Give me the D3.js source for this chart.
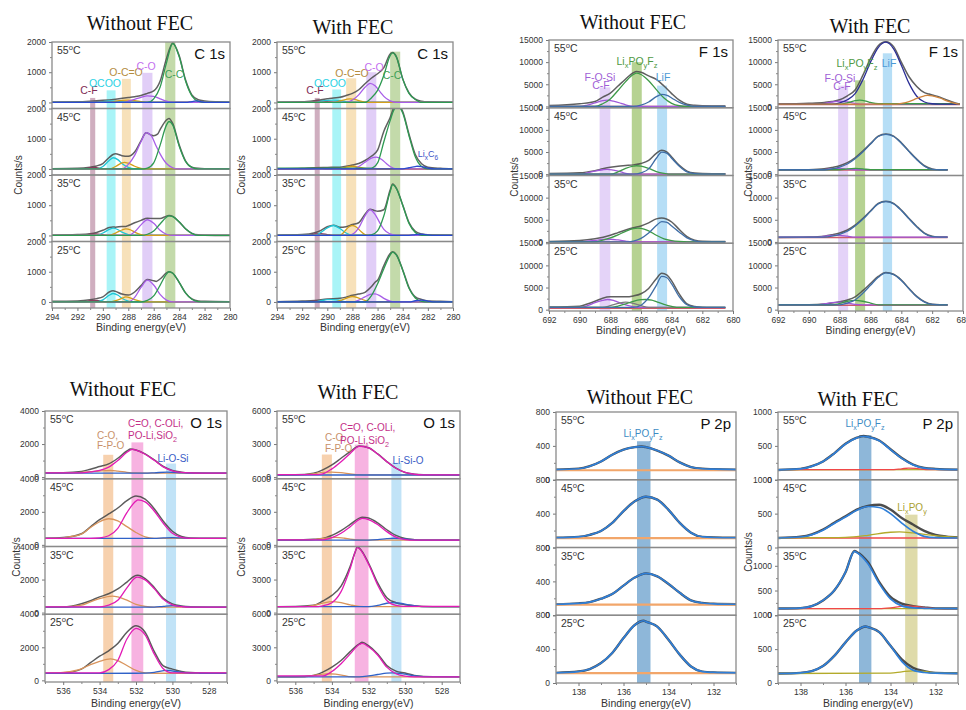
<!DOCTYPE html>
<html>
<head>
<meta charset="utf-8">
<script src="https://cdn.jsdelivr.net/npm/d3@7"></script>
<style>
  body { margin: 0; background: #fff; }
  svg { display: block; }
  text { font-family: "Liberation Sans", Arial, sans-serif; }
  text.title { font-family: "Liberation Serif", "Times New Roman", serif; }
</style>
</head>
<body>
<svg id="fig" width="966" height="710"></svg>
<script>
// ---- data: temperatures top to bottom, spectra as flat [eV, counts, eV, counts ...] ----
const temps = ["55", "45", "35", "25"];

const c1sTicks = [294, 292, 290, 288, 286, 284, 282, 280];
const f1sTicks = [692, 690, 688, 686, 684, 682, 680];
const o1sTicks = [536, 534, 532, 530, 528];
const p2pTicks = [138, 136, 134, 132];

// C 1s without FEC
const c1sWithout = [
  { env: [294,10, 292,20, 291,40, 290,70, 289,110, 288,160, 287.5,190, 287,230, 286.5,300, 286,380, 285.5,700, 285,1450, 284.5,1970, 284,1550, 283.5,750, 283,250, 282.5,90, 282,50, 281,20, 280,10],
    comps: [["base",[294,0, 280,0]],
      ["CF",[291.5,0, 291,25, 290.5,25, 290,0]],
      ["OCOO",[290.5,0, 290,30, 289.5,50, 289,45, 288.5,20, 288,0]],
      ["OCC",[289.5,0, 289,40, 288.5,70, 288,80, 287.5,60, 287,25, 286.5,0]],
      ["CO",[288.5,0, 288,40, 287.5,100, 287,170, 286.5,220, 286,200, 285.5,120, 285,40, 284.5,0]],
      ["CC",[286.5,0, 286,120, 285.5,500, 285,1300, 284.5,1950, 284,1520, 283.5,720, 283,220, 282.5,40, 282,0]],
      ["Li",[283.5,0, 283,30, 282.7,50, 282.3,30, 282,0]]] },
  { env: [294,10, 292,20, 291,60, 290.5,100, 290,180, 289.5,380, 289.2,480, 289,500, 288.5,440, 288,420, 287.5,560, 287,930, 286.6,1200, 286.2,1120, 286,1100, 285.7,1150, 285.5,1300, 285,1620, 284.8,1670, 284.5,1500, 284,800, 283.5,270, 283,60, 282.5,20, 282,10, 280,0],
    comps: [["base",[294,0, 280,0]],
      ["CF",[291.5,0, 291,40, 290.7,50, 290.3,30, 290,0]],
      ["OCOO",[290.5,0, 290,80, 289.5,280, 289.2,370, 288.8,300, 288.5,180, 288,50, 287.5,0]],
      ["OCC",[289.5,0, 289,80, 288.5,200, 288.3,220, 288,190, 287.5,90, 287,20, 286.5,0]],
      ["CO",[288.5,0, 288,150, 287.5,450, 287,900, 286.6,1200, 286.2,1100, 285.8,750, 285.5,500, 285,180, 284.5,40, 284,0]],
      ["CC",[287,0, 286.5,30, 286,200, 285.5,780, 285,1450, 284.8,1570, 284.5,1450, 284,760, 283.5,250, 283,50, 282.5,0]]] },
  { env: [294,10, 292,30, 291,60, 290.5,100, 290,170, 289.5,260, 289.2,280, 289,275, 288.5,300, 288.2,300, 288,330, 287.5,420, 287,500, 286.5,570, 286,560, 285.5,560, 285,640, 284.8,660, 284.5,630, 284,450, 283.5,220, 283,70, 282.5,20, 282,10, 280,0],
    comps: [["base",[294,0, 280,0]],
      ["CF",[291.5,0, 291,40, 290.5,50, 290,20, 289.5,0]],
      ["OCOO",[290.5,0, 290,80, 289.5,200, 289.2,240, 288.8,190, 288.5,110, 288,30, 287.5,0]],
      ["OCC",[289.5,0, 289,80, 288.5,180, 288.2,220, 287.8,180, 287.5,110, 287,30, 286.5,0]],
      ["CO",[288,0, 287.5,120, 287,350, 286.5,520, 286,400, 285.5,170, 285,40, 284.5,0]],
      ["CC",[287,0, 286.5,40, 286,150, 285.5,380, 285,600, 284.8,650, 284.5,620, 284,450, 283.5,220, 283,70, 282.5,0]]] },
  { env: [294,20, 292,30, 291,70, 290.5,110, 290,170, 289.5,330, 289.2,370, 289,350, 288.5,260, 288,230, 287.5,330, 287,540, 286.5,740, 286,700, 285.8,680, 285.5,760, 285,960, 284.8,1000, 284.5,950, 284,650, 283.5,300, 283,100, 282.5,30, 282,20, 280,10],
    comps: [["base",[294,0, 280,0]],
      ["CF",[291.5,0, 291,40, 290.5,50, 290,20, 289.5,0]],
      ["OCOO",[290.5,0, 290,70, 289.5,220, 289.2,280, 288.8,220, 288.5,120, 288,30, 287.5,0]],
      ["OCC",[289.5,0, 289,40, 288.5,120, 288.2,170, 287.8,130, 287.5,80, 287,20, 286.5,0]],
      ["CO",[288,0, 287.5,150, 287,480, 286.5,720, 286,560, 285.5,250, 285,60, 284.5,0]],
      ["CC",[287,0, 286.5,50, 286,200, 285.5,550, 285,920, 284.8,1000, 284.5,950, 284,650, 283.5,300, 283,90, 282.5,10, 282,0]]] }
];

// C 1s with FEC
const c1sWith = [
  { env: [294,10, 292,20, 291,60, 290.5,90, 290,120, 289.5,150, 289,170, 288.5,230, 288,300, 287.5,420, 287,620, 286.5,800, 286,950, 285.5,1150, 285,1600, 284.8,1650, 284.5,1510, 284,780, 283.5,320, 283,110, 282.5,40, 282,20, 280,10],
    comps: [["base",[294,0, 280,0]],
      ["CF",[291.5,0, 291,40, 290.5,50, 290,30, 289.5,0]],
      ["OCOO",[294,0, 291,0, 290.5,40, 290,70, 289.5,80, 289,60, 288.5,30, 288,0, 280,0]],
      ["OCC",[289.5,0, 289,50, 288.5,100, 288.2,120, 287.8,100, 287.5,60, 287,10, 286.5,0]],
      ["CO",[288.5,0, 288,80, 287.5,250, 287,500, 286.6,630, 286.2,550, 285.8,350, 285.5,200, 285,50, 284.5,0]],
      ["CC",[287,0, 286.5,150, 286,400, 285.5,900, 285,1550, 284.8,1640, 284.5,1500, 284,780, 283.5,300, 283,100, 282.5,0]]] },
  { env: [294,0, 292,20, 291,40, 290,50, 289,60, 288.5,90, 288,130, 287.5,180, 287,280, 286.5,420, 286,620, 285.5,1250, 285,1700, 284.7,2030, 284.4,2120, 284,1900, 283.5,1150, 283,480, 282.5,170, 282,60, 281,20, 280,0],
    comps: [["base",[294,0, 280,0]],
      ["CF",[291.5,0, 291,30, 290.5,30, 290,0]],
      ["OCC",[289,0, 288.5,60, 288,90, 287.5,60, 287,20, 286.5,0]],
      ["CO",[288,0, 287.5,80, 287,220, 286.5,360, 286.1,390, 285.7,320, 285.3,180, 285,80, 284.5,0]],
      ["CC",[286.5,30, 286,200, 285.5,900, 285,1600, 284.7,1950, 284.4,2080, 284,1850, 283.5,1100, 283,400, 282.5,80, 282,0]],
      ["Li",[284,0, 283.5,40, 283,80, 282.8,90, 282.5,80, 282,30, 281.5,0]]] },
  { env: [294,10, 292,30, 291,90, 290.5,170, 290,290, 289.5,340, 289,270, 288.5,290, 288,360, 287.5,420, 287,700, 286.6,870, 286.2,820, 286,800, 285.5,850, 285,1500, 284.8,1700, 284.5,1560, 284,1010, 283.5,430, 283,140, 282.5,50, 282,20, 280,10],
    comps: [["base",[294,0, 280,0]],
      ["CF",[291.5,0, 291,50, 290.5,60, 290,30, 289.5,0]],
      ["OCOO",[291,0, 290.5,100, 290,250, 289.5,330, 289,230, 288.5,80, 288,0]],
      ["OCC",[289,0, 288.7,100, 288.3,280, 288,330, 287.7,280, 287.3,120, 287,30, 286.5,0]],
      ["CO",[288.3,0, 287.5,250, 287,650, 286.6,850, 286.2,700, 285.8,400, 285.5,200, 285,50, 284.5,0]],
      ["CC",[287,0, 286.5,20, 286,150, 285.5,650, 285,1450, 284.8,1680, 284.5,1550, 284,1000, 283.5,400, 283,100, 282.5,0]],
      ["Li",[283.5,0, 283,30, 282.5,40, 282,20, 281.5,0]]] },
  { env: [294,10, 292,30, 291,50, 290,100, 289,120, 288.5,160, 288,220, 287.5,260, 287,320, 286.5,500, 286.2,650, 286,720, 285.5,1200, 285,1600, 284.8,1660, 284.5,1560, 284,1060, 283.5,480, 283,170, 282.5,80, 282,30, 281,20, 280,10],
    comps: [["base",[294,0, 280,0]],
      ["CF",[291.5,0, 291,30, 290.5,30, 290,0]],
      ["OCOO",[291,0, 290.5,40, 290,80, 289.5,80, 289,50, 288.5,0]],
      ["OCC",[289.5,0, 289,40, 288.5,120, 288,180, 287.5,130, 287,50, 286.5,0]],
      ["CO",[288,0, 287.5,60, 287,170, 286.5,260, 286.2,270, 285.8,200, 285.5,120, 285,30, 284.5,0]],
      ["CC",[287,0, 286.5,200, 286,600, 285.5,1100, 285,1550, 284.8,1650, 284.5,1550, 284,1050, 283.5,450, 283,130, 282.5,20, 282,0]],
      ["Li",[283.5,0, 283,40, 282.5,60, 282,30, 281.5,0]]] }
];

// F 1s without FEC
const f1sWithout = [
  { env: [692,200, 690,600, 689,1100, 688.5,2100, 688,3000, 687.5,4600, 687,6200, 686.5,7600, 686.3,7900, 686,7700, 685.5,6900, 685,6100, 684.5,4600, 684,2900, 683.5,1400, 683,500, 682.5,250, 682,150, 680.5,100],
    comps: [["base",[692,0, 680.5,0]],
      ["FOSi",[690,0, 689.5,300, 689,800, 688.5,1300, 688.2,1400, 687.8,1200, 687.3,700, 687,350, 686.5,0]],
      ["LiPOF",[689,0, 688.5,600, 688,1700, 687.5,3600, 687,5600, 686.5,7200, 686.3,7500, 686,7200, 685.5,5800, 685,3800, 684.5,1900, 684,700, 683.5,150, 683,0]],
      ["LiF",[686.5,0, 686,300, 685.5,1000, 685,2200, 684.65,2700, 684.3,2500, 684,1900, 683.5,900, 683,300, 682.5,0]]] },
  { env: [692,150, 690,300, 689,800, 688.5,1200, 688,1550, 687.5,1800, 687,1950, 686.5,2100, 686,2400, 685.5,3100, 685,4700, 684.65,5400, 684.3,5000, 684,3900, 683.5,2000, 683,700, 682.5,250, 682,150, 680.5,100],
    comps: [["base",[692,0, 680.5,0]],
      ["FOSi",[690,0, 689.5,300, 689,700, 688.5,1000, 688.2,1100, 687.8,900, 687.3,500, 687,200, 686.5,0]],
      ["LiPOF",[688,0, 687.5,500, 687,1300, 686.5,1800, 686.3,1900, 686,1800, 685.5,1300, 685,600, 684.5,200, 684,0]],
      ["LiF",[686.5,0, 686,300, 685.5,1200, 685,3600, 684.65,5000, 684.3,4700, 684,3600, 683.5,1800, 683,500, 682.5,100, 682,0]]] },
  { env: [692,100, 690,300, 689,700, 688,1500, 687.5,2100, 687,2700, 686.5,3200, 686,3600, 685.5,4300, 685,5200, 684.65,5400, 684,4500, 683.5,2800, 683,1200, 682.5,400, 682,150, 680.5,100],
    comps: [["base",[692,0, 680.5,0]],
      ["FOSi",[690,0, 689.5,150, 689,350, 688.5,550, 688,600, 687.5,450, 687,200, 686.5,0]],
      ["LiPOF",[689,0, 688.5,400, 688,900, 687.5,1600, 687,2400, 686.5,3000, 686.2,3100, 685.8,2900, 685.5,2500, 685,1500, 684.5,700, 684,300, 683.5,100, 683,0]],
      ["LiF",[687,0, 686.5,200, 686,800, 685.5,2000, 685,3700, 684.65,4600, 684.3,4400, 684,3600, 683.5,2200, 683,900, 682.5,250, 682,0]]] },
  { env: [692,600, 690,800, 689.5,1300, 689,1900, 688.5,2600, 688,2900, 687.5,2900, 687,2900, 686.5,3100, 686,3600, 685.5,4800, 685,7000, 684.65,8200, 684.3,7800, 684,6500, 683.5,3500, 683,1300, 682.5,700, 682,500, 680.5,400],
    comps: [["base",[692,300, 680.5,300]],
      ["FOSi",[690,500, 689.5,900, 689,1600, 688.5,2100, 688.2,2300, 687.8,2100, 687.5,1700, 687,1100, 686.5,700, 686,500]],
      ["G",[688.5,500, 688,900, 687.5,1400, 687,1700, 686.5,1400, 686,900, 685.5,500]],
      ["LiPOF",[688,500, 687.5,800, 687,1300, 686.5,1900, 686,2250, 685.7,2300, 685.3,2150, 685,1800, 684.5,1200, 684,750, 683.5,500]],
      ["LiF",[686.5,500, 686,1000, 685.5,2700, 685,5500, 684.65,7500, 684.3,7200, 684,5800, 683.5,2900, 683,1100, 682.5,600, 682,500]]] }
];

// F 1s with FEC
const f1sWith = [
  { env: [692,500, 690,700, 689,900, 688.5,1100, 688,1500, 687.5,2400, 687,3700, 686.5,7000, 686,10800, 685.5,13700, 685,14600, 684.5,13500, 684,10000, 683.5,6700, 683,4500, 682.5,3100, 682.2,2800, 682,2600, 681.5,2100, 681,1400, 680.5,800, 680.2,500],
    comps: [["base",[692,400, 680.2,400]],
      ["FOSi",[689.5,500, 689,700, 688.5,1000, 688,1200, 687.5,1000, 687,700, 686.5,500]],
      ["LiPOF",[688,500, 687.5,800, 687,1300, 686.7,1400, 686.3,1200, 686,900, 685.5,600]],
      ["N",[688.5,500, 688,800, 687.5,1500, 687,2900, 686.5,6000, 686,10000, 685.5,13300, 685,14500, 684.5,13000, 684,9300, 683.5,5200, 683,2300, 682.5,1000, 682,600, 681.5,500]],
      ["O",[684.5,500, 684,700, 683.5,1100, 683,1800, 682.5,2400, 682.3,2500, 682,2400, 681.5,1900, 681,1200, 680.5,700, 680.2,500]]] },
  { env: [692,900, 690,1000, 689,1200, 688.5,1500, 688,1900, 687.5,2600, 687,3700, 686.5,5200, 686,6900, 685.5,8600, 685,9100, 684.5,8600, 684,7100, 683.5,5200, 683,3400, 682.5,1900, 682,1200, 681.5,1000, 681,1000],
    comps: [["base",[692,900, 681,900]],
      ["FOSi",[689,1000, 688.5,1200, 688,1300, 687.5,1100, 687,1000]],
      ["LiPOF",[688,1000, 687.5,1200, 687,1300, 686.5,1200, 686,1000]],
      ["LiF",[689,1000, 688.5,1200, 688,1600, 687.5,2300, 687,3500, 686.5,5000, 686,6800, 685.5,8500, 685,9000, 684.5,8500, 684,7000, 683.5,5100, 683,3300, 682.5,1800, 682,1100, 681.5,1000]]] },
  { env: [692,1000, 690,1100, 689,1300, 688.5,1600, 688,2000, 687.5,2700, 687,3800, 686.5,5300, 686,7000, 685.5,8700, 685,9200, 684.5,8700, 684,7200, 683.5,5300, 683,3500, 682.5,2000, 682,1300, 681.5,1100, 681,1100],
    comps: [["base",[692,1000, 681,1000]],
      ["FOSi",[689.5,1100, 689,1300, 688.5,1500, 688,1500, 687.5,1300, 687,1100]],
      ["LiF",[689,1100, 688.5,1300, 688,1700, 687.5,2400, 687,3600, 686.5,5100, 686,6900, 685.5,8600, 685,9100, 684.5,8600, 684,7100, 683.5,5200, 683,3400, 682.5,1900, 682,1200, 681.5,1100]]] },
  { env: [692,1000, 690,1100, 689,1300, 688.5,1500, 688,1800, 687.5,2200, 687,2900, 686.5,4300, 686,5900, 685.5,7500, 685,8400, 684.5,8000, 684,6700, 683.5,4800, 683,3000, 682.5,1800, 682,1200, 681.5,1100, 681,1100],
    comps: [["base",[692,1000, 681,1000]],
      ["FOSi",[689.5,1100, 689,1300, 688.5,1600, 688,1700, 687.5,1500, 687,1200, 686.5,1100]],
      ["LiPOF",[688.5,1100, 688,1400, 687.5,1900, 687,2100, 686.5,1900, 686,1500, 685.5,1100]],
      ["LiF",[688,1100, 687.5,1500, 687,2200, 686.5,3700, 686,5500, 685.5,7300, 685,8300, 684.5,7900, 684,6600, 683.5,4700, 683,2900, 682.5,1700, 682,1200, 681.5,1100]]] }
];

// O 1s without FEC
const o1sWithout = [
  { env: [537,260, 536,270, 535,340, 534.5,480, 534,640, 533.5,800, 533,1140, 532.5,1580, 532.3,1700, 532,1640, 531.5,1400, 531,1040, 530.5,640, 530,400, 529.5,300, 529,260, 528,240, 527,240],
    comps: [["CO",[537,250, 536,260, 535,290, 534.5,330, 534,370, 533.4,400, 533,360, 532.5,290, 532,250, 531.5,240, 527,240]],
      ["LiOSi",[537,240, 531.5,240, 531,260, 530.3,300, 529.5,260, 529,240, 527,240]],
      ["CeqO",[535.5,250, 535,260, 534.5,320, 534,400, 533.5,600, 533,1000, 532.5,1500, 532.2,1680, 532,1630, 531.5,1380, 531,1020, 530.5,620, 530,380, 529.5,280, 529,250, 528.5,240]]] },
  { env: [537,400, 536,440, 535,670, 534.5,1090, 534,1520, 533.5,1870, 533,2230, 532.5,2670, 532,2950, 531.5,2760, 531,2190, 530.5,1430, 530,820, 529.5,510, 529,420, 528,400, 527,400],
    comps: [["CO",[537,390, 536.5,400, 536,420, 535.5,520, 535,650, 534.5,1050, 534,1400, 533.5,1580, 533,1450, 532.5,1100, 532,750, 531.5,480, 531,390, 527,390]],
      ["LiOSi",[537,390, 531,390, 530.5,420, 530,440, 529.5,420, 529,390, 527,390]],
      ["CeqO",[534.5,390, 534,420, 533.5,550, 533,1000, 532.5,1950, 532,2650, 531.9,2720, 531.5,2600, 531,2050, 530.5,1300, 530,700, 529.5,450, 529,390]]] },
  { env: [537,330, 536,330, 535,530, 534.5,720, 534,950, 533.5,1140, 533,1430, 532.5,1850, 532,2250, 531.9,2260, 531.5,2060, 531,1520, 530.5,860, 530,530, 529.5,400, 529,350, 528,330, 527,330],
    comps: [["CO",[537,330, 536,340, 535,450, 534.5,650, 534,850, 533.3,1000, 533,950, 532.5,750, 532,500, 531.5,380, 531,330, 527,330]],
      ["LiOSi",[537,330, 531,330, 530.5,380, 530,420, 529.5,380, 529,330, 527,330]],
      ["CeqO",[534,350, 533.5,450, 533,750, 532.5,1500, 532,2130, 531.9,2150, 531.5,1980, 531,1450, 530.5,800, 530,470, 529.5,360, 529,330]]] },
  { env: [537,430, 536,450, 535,680, 534.5,1070, 534,1460, 533.5,1790, 533,2230, 532.5,2910, 532,3300, 531.5,2910, 531,1750, 530.5,870, 530,680, 529.5,540, 529,470, 528,430, 527,430],
    comps: [["CO",[537,420, 536.5,430, 536,480, 535,700, 534.5,950, 534,1150, 533.4,1300, 533,1200, 532.5,900, 532,600, 531.5,450, 531,430, 527,420]],
      ["LiOSi",[537,420, 532,430, 531.5,440, 531,480, 530.3,600, 529.5,480, 529,440, 528.5,430, 527,420]],
      ["CeqO",[534,450, 533.5,650, 533,1200, 532.5,2500, 532,3150, 531.5,2750, 531,1600, 530.5,700, 530,450]]] }
];

// O 1s with FEC
const o1sWith = [
  { env: [537,200, 536,210, 535,360, 534.5,660, 534,1110, 533.5,1710, 533,2310, 532.5,2820, 532,2670, 531.5,2100, 531,1410, 530.5,810, 530,420, 529.5,270, 529,220, 528,200, 527,200],
    comps: [["CO",[537,200, 536,210, 535,300, 534.5,420, 534,450, 533.5,400, 533,300, 532.5,220, 532,200, 527,200]],
      ["LiOSi",[537,190, 527,190]],
      ["CeqO",[535,220, 534.5,300, 534,750, 533.5,1400, 533,2150, 532.5,2780, 532,2650, 531.5,2100, 531,1400, 530.5,800, 530,420, 529.5,260, 529,210]]] },
  { env: [537,430, 536,430, 535,500, 534.5,570, 534,860, 533.5,1290, 533,1860, 532.5,2430, 532.35,2510, 532,2430, 531.5,2000, 531,1370, 530.5,860, 530,570, 529.5,470, 529,440, 528,430, 527,430],
    comps: [["CO",[537,430, 535.5,430, 535,480, 534.5,580, 533.8,680, 533.3,600, 533,520, 532.5,440, 532,430, 527,430]],
      ["LiOSi",[537,430, 532,430, 531.5,470, 531,560, 530.6,600, 530,530, 529.5,460, 529,430, 527,430]],
      ["CeqO",[534.5,450, 534,650, 533.5,1050, 533,1650, 532.5,2300, 532.35,2400, 532,2300, 531.5,1850, 531,1200, 530.5,700, 530,480, 529.5,430]]] },
  { env: [537,540, 536,550, 535,660, 534.5,1050, 534,1560, 533.5,2400, 533,4200, 532.75,5400, 532.6,5950, 532.5,5850, 532,4500, 531.5,2700, 531,1350, 530.5,900, 530,720, 529.5,620, 529,560, 528,540, 527,540],
    comps: [["CO",[537,540, 535.5,540, 535,650, 534.5,850, 534,1000, 533.5,900, 533,700, 532.5,560, 532,540, 527,540]],
      ["LiOSi",[537,540, 532,540, 531.5,650, 531,850, 530.7,900, 530.3,850, 529.8,700, 529.3,580, 529,540, 527,540]],
      ["CeqO",[535,540, 534.5,620, 534,900, 533.5,1900, 533,4000, 532.6,5900, 532,4400, 531.5,2500, 531,1100, 530.5,650, 530,560]]] },
  { env: [537,320, 536,320, 535,450, 534.5,750, 534,1200, 533.5,1800, 533,2610, 532.5,3300, 532.35,3450, 532,3150, 531.5,2400, 531,1350, 530.5,840, 530,660, 529.5,450, 529,360, 528,320, 527,320],
    comps: [["CO",[537,320, 535.5,320, 535,450, 534.5,560, 534.2,600, 533.8,560, 533.3,430, 533,340, 532.5,320, 527,320]],
      ["LiOSi",[537,320, 532.5,320, 532,400, 531.5,530, 531,650, 530.7,680, 530.3,640, 530,560, 529.5,420, 529,340, 527,320]],
      ["CeqO",[534.5,400, 534,800, 533.5,1500, 533,2400, 532.5,3250, 532.35,3350, 532,3050, 531.5,2300, 531,1200, 530.5,600, 530,380, 529.5,320]]] }
];

// P 2p without FEC
const p2pWithout = [
  { env: [139,120, 138,130, 137.5,160, 137,215, 136.5,295, 136,355, 135.5,385, 135.2,392, 135,385, 134.5,345, 134,285, 133.5,205, 133,150, 132.5,130, 132,125, 131,120],
    comps: [["base",[139,112, 131,112]]] },
  { env: [139,115, 138,125, 137.5,150, 137,195, 136.5,290, 136,430, 135.5,545, 135,600, 134.5,565, 134,445, 133.5,290, 133,175, 132.5,125, 132,118, 131,115],
    comps: [["base",[139,110, 131,110]]] },
  { env: [139,130, 138,140, 137.5,155, 137,195, 136.5,250, 136,350, 135.5,445, 135,495, 134.5,460, 134,370, 133.5,265, 133,175, 132.5,145, 132,135, 131,130],
    comps: [["base",[139,126, 131,126]]] },
  { env: [139,120, 138,135, 137.5,165, 137,235, 136.5,355, 136,530, 135.5,685, 135.1,735, 135,725, 134.5,665, 134,510, 133.5,335, 133,195, 132.5,135, 132,125, 131,120],
    comps: [["base",[139,116, 131,116]]] }
];

// P 2p with FEC
const p2pWith = [
  { env: [139,145, 138,160, 137.5,200, 137,270, 136.5,390, 136,530, 135.5,620, 135.2,645, 135,635, 134.5,580, 134,450, 133.5,320, 133,225, 132.5,175, 132,160, 131,150],
    comps: [["olive",[139,145, 131,148]],
      ["red",[134,148, 133.5,162, 133.2,172, 132.8,165, 132.3,150, 131,148]],
      ["fit",[139,145, 138,160, 137.5,198, 137,268, 136.5,388, 136,528, 135.5,618, 135.2,642, 135,632, 134.5,575, 134,445, 133.5,315, 133,220, 132.5,172, 132,158, 131,150]]] },
  { env: [139,140, 138,160, 137.5,195, 137,265, 136.5,365, 136,460, 135.5,560, 135,615, 134.5,630, 134,560, 133.5,435, 133,340, 132.5,245, 132,185, 131.5,160, 131,150],
    comps: [["red",[134,140, 131,140]],
      ["olive",[139,140, 137,145, 136,150, 135,180, 134,225, 133.6,230, 133,215, 132,175, 131,150]],
      ["fit",[139,140, 138,155, 137,255, 136.5,355, 136,450, 135.5,550, 135,605, 134.5,590, 134,500, 133.5,360, 133,240, 132.5,165, 132,145, 131,140]]] },
  { env: [139,135, 138,145, 137.5,185, 137,300, 136.5,500, 136,870, 135.6,1300, 135.5,1280, 135,1070, 134.5,670, 134,370, 133.5,235, 133,185, 132.5,160, 132,140, 131,135],
    comps: [["olive",[139,135, 131,135]],
      ["red",[134.5,135, 134,150, 133.5,180, 133.2,190, 132.8,175, 132.3,145, 132,135]],
      ["fit",[139,135, 138,145, 137.5,185, 137,300, 136.5,500, 136,870, 135.6,1290, 135.5,1270, 135,1040, 134.5,640, 134,330, 133.5,190, 133,150, 132.5,140, 132,136, 131,135]]] },
  { env: [139,140, 138,150, 137.5,175, 137,250, 136.5,400, 136,600, 135.5,775, 135.1,835, 135,825, 134.5,750, 134,550, 133.5,350, 133,225, 132.5,175, 132,150, 131,145],
    comps: [["olive",[139,140, 134,145, 133.5,165, 133,180, 132.5,170, 132,150, 131.5,145, 131,145]],
      ["fit",[139,140, 138,150, 137.5,175, 137,250, 136.5,400, 136,600, 135.5,775, 135.1,835, 135,825, 134.5,750, 134,550, 133.5,320, 133,190, 132.5,155, 132,145, 131,142]]] }
];

// shaded assignment bands: [key, eV from, eV to, top value, subplot of top]
const c1sBandsWithout = [["CF",291.0,290.6,150,0], ["OCOO",289.7,289.0,400,0], ["OCC",288.5,287.8,780,0], ["CO",286.9,286.1,980,0], ["CC",285.1,284.3,2000,0]];
const c1sBandsWith = [["CF",291.0,290.6,150,0], ["OCOO",289.6,288.9,430,0], ["OCC",288.5,287.7,800,0], ["CO",286.9,286.1,1000,0], ["CC",285.0,284.2,1680,0]];
const f1sBandsWithout = [["FOSi",688.7,688.0,4300,0], ["LiPOF",686.6,685.95,10000,0], ["LiF",684.95,684.3,4700,0]];
const f1sBandsWith = [["FOSi",688.1,687.45,4700,0], ["LiPOF",687.0,686.35,5900,0], ["LiF",685.2,684.6,12000,0]];
const o1sBandsWithout = [["CO",533.8,533.25,1350,0], ["CeqO",532.25,531.6,2100,0], ["LiOSi",530.35,529.8,820,0]];
const o1sBandsWith = [["CO",534.55,534.0,2050,0], ["CeqO",532.75,532.0,2950,0], ["LiOSi",530.75,530.2,1300,0]];
const p2pBandsWithout = [["fit",135.4,134.8,455,0]];
const p2pBandsWith = [["fit",135.4,134.85,660,0], ["olive",133.35,132.8,485,1]];

// ---- styles ----
const c1sStyle = { env:"#505050", base:"#8a4a4a", CF:"#8a3a5c", OCOO:"#1fc6d6", OCC:"#d4a01a", CO:"#a85ee8", CC:"#2e9a52", Li:"#2a4bd0" };
const c1sBandColor = { CF:"#c7a0b4", OCOO:"#9af2f6", OCC:"#f6dcae", CO:"#dcc6f6", CC:"#b9d49b" };
const f1sStyle = { env:"#4f4f4f", base:"#cc5a6a", FOSi:"#a058d8", LiPOF:"#3e9a48", LiF:"#3f6ea6", G:"#7c7c7c", N:"#2c2f96", O:"#d0843c" };
const f1sBandColor = { FOSi:"#dfcbf7", LiPOF:"#a9ca7f", LiF:"#a9d8f4" };
const o1sStyle = { env:"#4a4a4a", CO:"#d9945c", LiOSi:"#3062c8", CeqO:"#e21bb5" };
const o1sBandColor = { CO:"#f6c9a0", CeqO:"#f6a6dc", LiOSi:"#b6def6" };
const p2pStyle = { env:"#3a3a3a", base:"#f2a66a", fit:"#2f7fd8", olive:"#b3aa2a", red:"#f04848" };
const p2pBandColor = { fit:"#7aaad2", olive:"#d9d59b" };

const panels = [
  { data:c1sWithout, bands:c1sBandsWithout, style:c1sStyle, bandColor:c1sBandColor,
    x0:52, x1:230, y0:42, y1:308, xd:[294,280], yd:[[-200,2000],[-200,2000],[-200,2000],[-200,2000]],
    yt:[0,1000,2000], ym:[500,1500], xt:c1sTicks, xm:[293,291,289,287,285,283,281],
    title:"Without FEC", tx:140, ty:30, elem:"C 1s", ylab:[22,175], xlabY:331,
    labels:[["C-F",89,94,"#7e2b53"],["OCOO",105,87,"#2ad2e4"],["O-C=O",126,76,"#b48c3e"],["C-O",146,70,"#c46ff0"],["C-C",174,78,"#3e9f56"]] },
  { data:c1sWith, bands:c1sBandsWith, style:c1sStyle, bandColor:c1sBandColor,
    x0:277, x1:453, y0:42, y1:308, xd:[294,280], yd:[[-200,2000],[-200,2000],[-200,2000],[-200,2000]],
    yt:[0,1000,2000], ym:[500,1500], xt:c1sTicks, xm:[293,291,289,287,285,283,281],
    title:"With FEC", tx:353, ty:34, elem:"C 1s", ylab:[245,175], xlabY:331,
    labels:[["C-F",315,94,"#7e2b53"],["OCOO",330,87,"#2ad2e4"],["O-C=O",352,77,"#b48c3e"],["C-O",374,71,"#c46ff0"],["C-C",392,79,"#3e9f56"],["Li_xC_6",428,157,"#3c52c8",9]] },
  { data:f1sWithout, bands:f1sBandsWithout, style:f1sStyle, bandColor:f1sBandColor,
    x0:549, x1:733, y0:40, y1:311, xd:[692,680], yd:[[-300,15000],[-300,15000],[-300,15000],[-300,15000]],
    yt:[0,5000,10000,15000], ym:[2500,7500,12500], xt:f1sTicks, xm:[691,689,687,685,683,681],
    title:"Without FEC", tx:633, ty:29, elem:"F 1s", ylab:[518,177], xlabY:334,
    labels:[["F-O-Si",600,81,"#a15fd6"],["C-F",601,89,"#a15fd6"],["Li_xPO_yF_z",637,65,"#4f9a45"],["LiF",663,81,"#4c9ad6"]] },
  { data:f1sWith, bands:f1sBandsWith, style:f1sStyle, bandColor:f1sBandColor,
    x0:778, x1:963, y0:40, y1:311, xd:[692,680], yd:[[-300,15000],[-300,15000],[-300,15000],[-300,15000]],
    yt:[0,5000,10000,15000], ym:[2500,7500,12500], xt:f1sTicks, xm:[691,689,687,685,683,681],
    title:"With FEC", tx:870, ty:33, elem:"F 1s", ylab:[752,177], xlabY:334,
    labels:[["Li_xPO_yF_z",857,67,"#4f9a45"],["LiF",889,67,"#4c9ad6"],["F-O-Si",840,82,"#a15fd6"],["C-F",842,90,"#a15fd6"]] },
  { data:o1sWithout, bands:o1sBandsWithout, style:o1sStyle, bandColor:o1sBandColor,
    x0:45, x1:227, y0:411, y1:682, xd:[537,527], yd:[[-100,4000],[-100,4000],[-100,4000],[-100,4000]],
    yt:[0,2000,4000], ym:[1000,3000], xt:o1sTicks, xm:[537,535,533,531,529,527],
    title:"Without FEC", tx:123, ty:396, elem:"O 1s", ylab:[20,557], xlabY:707,
    labels:[["C-O,",97,439,"#c8916a",10,"start"],["F-P-O",97,449,"#c8916a",10,"start"],["C=O, C-OLi,",128,427,"#c43088",10,"start"],["PO-Li,SiO_2",128,439,"#c43088",10,"start"],["Li-O-Si",173,462,"#3a5cc6",10]] },
  { data:o1sWith, bands:o1sBandsWith, style:o1sStyle, bandColor:o1sBandColor,
    x0:277, x1:460, y0:411, y1:682, xd:[537,527], yd:[[-150,6000],[-150,6000],[-150,6000],[-150,6000]],
    yt:[0,3000,6000], ym:[1500,4500], xt:o1sTicks, xm:[537,535,533,531,529,527],
    title:"With FEC", tx:358, ty:399, elem:"O 1s", ylab:[245,557], xlabY:707,
    labels:[["C-O,",325,441,"#c8916a",10,"start"],["F-P-O",325,452,"#c8916a",10,"start"],["C=O, C-OLi,",340,431,"#c43088",10,"start"],["PO-Li,SiO_2",340,444,"#c43088",10,"start"],["Li-Si-O",408,464,"#3a5cc6",10]] },
  { data:p2pWithout, bands:p2pBandsWithout, style:p2pStyle, bandColor:p2pBandColor, fitFromEnv:true,
    x0:556, x1:736, y0:412, y1:683, xd:[139,131], yd:[[0,800],[0,800],[0,800],[0,800]],
    yt:[0,400,800], ym:[200,600], xt:p2pTicks, xm:[139,137,135,133,131],
    title:"Without FEC", tx:640, ty:404, elem:"P 2p", ylab:null, xlabY:707,
    labels:[["Li_xPO_yF_z",643,437,"#3d8cc4",10]] },
  { data:p2pWith, bands:p2pBandsWith, style:p2pStyle, bandColor:p2pBandColor, fitFromEnv:false,
    x0:778, x1:958, y0:412, y1:683, xd:[139,131], yd:[[0,1000],[0,1000],[0,1370],[0,1000]],
    yt:[0,500,1000], ym:[250,750,1250], xt:p2pTicks, xm:[139,137,135,133,131],
    title:"With FEC", tx:858, ty:406, elem:"P 2p", ylab:[752,552], xlabY:707,
    labels:[["Li_xPO_yF_z",865,427,"#3d8cc4",10],["Li_xPO_y",912,511,"#aaa232",10]] }
];

// ---- drawing ----
const svg = d3.select("#fig");
const defs = svg.append("defs");

function pairs(a) {
  const r = [];
  for (let i = 0; i < a.length; i += 2) r.push([a[i], a[i + 1]]);
  return r;
}

// "_x" -> subscript char, "^o" -> superscript char
function rich(sel, str) {
  let shift = 0, i = 0;
  while (i < str.length) {
    const c = str[i];
    if ((c === "_" || c === "^") && i + 1 < str.length) {
      const want = c === "_" ? 3 : -4;
      sel.append("tspan").attr("dy", want - shift).attr("font-size", "0.72em").text(str[i + 1]);
      shift = want; i += 2;
    } else {
      let j = i;
      while (j < str.length && str[j] !== "_" && str[j] !== "^") j++;
      sel.append("tspan").attr("dy", -shift).text(str.slice(i, j));
      shift = 0; i = j;
    }
  }
}

panels.forEach((p, pi) => {
  const g = svg.append("g");
  const x = d3.scaleLinear().domain(p.xd).range([p.x0, p.x1]);
  const h = (p.y1 - p.y0) / 4;
  const ys = temps.map((t, i) => d3.scaleLinear().domain(p.yd[i]).range([p.y0 + (i + 1) * h, p.y0 + i * h]));

  // bands
  p.bands.forEach(b => {
    const top = ys[b[4]](b[3]);
    g.append("rect")
      .attr("x", x(b[1])).attr("width", x(b[2]) - x(b[1]))
      .attr("y", top).attr("height", p.y1 - top)
      .attr("fill", p.bandColor[b[0]]).attr("opacity", 0.85);
  });

  temps.forEach((t, i) => {
    const y = ys[i];
    const top = p.y0 + i * h;
    const cid = "clip" + pi + "_" + i;
    defs.append("clipPath").attr("id", cid).append("rect")
      .attr("x", p.x0).attr("y", top).attr("width", p.x1 - p.x0).attr("height", h);

    // y axis
    const ya = g.append("g").attr("transform", `translate(${p.x0},0)`)
      .call(d3.axisLeft(y).tickValues(p.yt.filter(v => v <= p.yd[i][1])).tickSize(3).tickSizeOuter(0).tickFormat(d3.format("d")));
    ya.select(".domain").remove();
    ya.selectAll("text").attr("font-size", 8.5).attr("fill", "#333");
    ya.selectAll("line").attr("stroke", "#777");
    const ym = g.append("g").attr("transform", `translate(${p.x0},0)`)
      .call(d3.axisLeft(y).tickValues(p.ym.filter(v => v < p.yd[i][1])).tickSize(2).tickFormat(""));
    ym.select(".domain").remove();
    ym.selectAll("line").attr("stroke", "#888");

    const d = p.data[i];
    const env = pairs(d.env);
    const line = d3.line().x(v => x(v[0])).y(v => y(v[1])).curve(d3.curveMonotoneX);
    const cg = g.append("g").attr("clip-path", `url(#${cid})`);

    const isP = p.style.fit !== undefined;
    // measured envelope
    cg.append("path").attr("d", line(env)).attr("fill", "none")
      .attr("stroke", p.style.env).attr("stroke-width", isP ? 2.4 : 1.5).attr("opacity", 0.9);

    const e0 = env[0][0], e1 = env[env.length - 1][0];
    d.comps.forEach(([key, flat]) => {
      let pts = pairs(flat);
      if (pts[0][0] < e0) pts.unshift([e0, pts[0][1]]);
      if (pts[pts.length - 1][0] > e1) pts.push([e1, pts[pts.length - 1][1]]);
      cg.append("path").attr("d", line(pts)).attr("fill", "none")
        .attr("stroke", p.style[key])
        .attr("stroke-width", key === "base" && isP ? 2.2 : (key === "fit" ? 1.7 : 1.3));
    });
    if (p.fitFromEnv) {
      cg.append("path").attr("d", line(env)).attr("fill", "none")
        .attr("stroke", p.style.fit).attr("stroke-width", 1.7);
    }

    // subplot frame
    g.append("rect").attr("x", p.x0).attr("y", top).attr("width", p.x1 - p.x0).attr("height", h)
      .attr("fill", "none").attr("stroke", "#8a8a8a").attr("stroke-width", 1.3);

    // temperature
    const tt = g.append("text").attr("x", p.x0 + 5).attr("y", top + 12)
      .attr("font-size", 10.5).attr("fill", "#333");
    rich(tt, t + "^oC");
  });

  // x axis
  const xa = g.append("g").attr("transform", `translate(0,${p.y1})`)
    .call(d3.axisBottom(x).tickValues(p.xt).tickSize(3).tickSizeOuter(0).tickFormat(d3.format("d")));
  xa.select(".domain").remove();
  xa.selectAll("text").attr("font-size", 8.5).attr("fill", "#333");
  xa.selectAll("line").attr("stroke", "#777");
  const xm = g.append("g").attr("transform", `translate(0,${p.y1})`)
    .call(d3.axisBottom(x).tickValues(p.xm).tickSize(2).tickFormat(""));
  xm.select(".domain").remove();
  xm.selectAll("line").attr("stroke", "#888");

  g.append("text").attr("x", (p.x0 + p.x1) / 2).attr("y", p.xlabY)
    .attr("text-anchor", "middle").attr("font-size", 10.5).attr("fill", "#333")
    .text("Binding energy(eV)");

  if (p.ylab) {
    g.append("text").attr("transform", `translate(${p.ylab[0]},${p.ylab[1]}) rotate(-90)`)
      .attr("text-anchor", "middle").attr("font-size", 10).attr("fill", "#333").text("Counts/s");
  }

  // title and element
  g.append("text").attr("class", "title").attr("x", p.tx).attr("y", p.ty).attr("text-anchor", "middle")
    .attr("font-size", 20).attr("fill", "#111").text(p.title);
  g.append("text").attr("x", p.x1 - 5).attr("y", p.y0 + 17).attr("text-anchor", "end")
    .attr("font-size", 15).attr("fill", "#111").text(p.elem);

  // component labels
  p.labels.forEach(l => {
    const t = g.append("text").attr("x", l[1]).attr("y", l[2])
      .attr("text-anchor", l[5] || "middle").attr("font-size", l[4] || 10.5).attr("fill", l[3]);
    rich(t, l[0]);
  });
});
</script>
</body>
</html>
